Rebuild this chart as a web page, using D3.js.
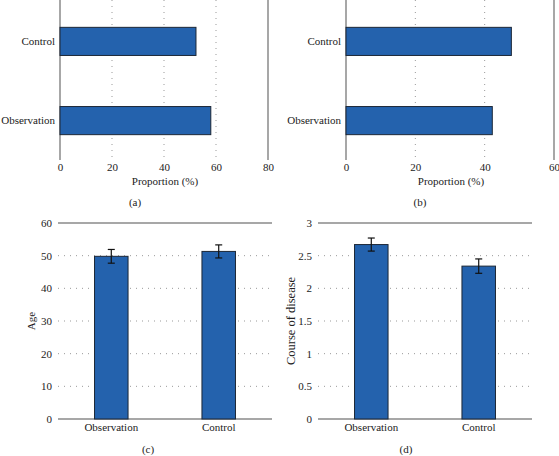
<!DOCTYPE html>
<html><head><meta charset="utf-8">
<script src="https://cdn.jsdelivr.net/npm/d3@7"></script>
<style>
body{margin:0;background:#fff;}
svg text{font-family:'Liberation Serif','Times New Roman',Times,serif !important;fill:#222;}
</style></head>
<body><svg id="c" width="559" height="456"></svg>
<script>
// Data
const groupsAB = ["Control", "Observation"];
const propA = [52.3, 58.0];
const propB = [47.7, 42.2];
const groupsCD = ["Observation", "Control"];
const ageMean = [49.8, 51.3];
const ageErr = [2.1, 2.0];
const courseMean = [2.67, 2.34];
const courseErr = [0.10, 0.11];
const ticksA = [0, 20, 40, 60, 80];
const ticksB = [0, 20, 40, 60];
const ticksC = [0, 10, 20, 30, 40, 50, 60];
const ticksD = [0, 0.5, 1, 1.5, 2, 2.5, 3];

const FS = 11;
const svg = d3.select("#c");
const FILL = "#2462ad", EDGE = "#1c2736", AX = "#8a8a8a", GRID = "#999";

function hpanel(vals, ticks, xmax, x0, x1, labX, titleX, cap, capX) {
  const x = d3.scaleLinear().domain([0, xmax]).range([x0, x1]);
  const y = d3.scaleBand().domain(groupsAB).range([2, 160]).paddingInner(0.645).paddingOuter(0.32);
  const g = svg.append("g");
  g.selectAll(".grid").data(ticks.filter(t => t > 0 && t < xmax)).enter().append("line")
    .attr("x1", d => x(d)).attr("x2", d => x(d)).attr("y1", 0).attr("y2", 160)
    .attr("stroke", GRID).attr("stroke-width", 1).attr("stroke-dasharray", "1,5");
  [0, xmax].forEach(v => g.append("line").attr("x1", x(v)).attr("x2", x(v)).attr("y1", 0).attr("y2", 160)
    .attr("stroke", AX).attr("stroke-width", 1.5));
  g.selectAll(".bar").data(vals).enter().append("rect")
    .attr("x", x(0)).attr("y", (d, i) => y(groupsAB[i]))
    .attr("width", d => x(d) - x(0)).attr("height", y.bandwidth())
    .attr("fill", FILL).attr("stroke", EDGE).attr("stroke-width", 1);
  const ax = d3.axisBottom(x).tickValues(ticks).tickSize(0).tickPadding(0);
  const axg = g.append("g").attr("transform", "translate(0,163)").call(ax);
  axg.select(".domain").remove();
  axg.attr("font-size", FS);
  axg.selectAll("text").attr("dy", "0.71em");
  const ay = d3.axisLeft(y).tickSize(0).tickPadding(0);
  const ayg = g.append("g").attr("transform", `translate(${labX},0)`).call(ay);
  ayg.select(".domain").remove();
  ayg.attr("font-size", FS);
  g.append("text").attr("x", titleX).attr("y", 185).attr("text-anchor", "middle").attr("font-size", FS).text("Proportion (%)");
  g.append("text").attr("x", capX).attr("y", 206).attr("text-anchor", "middle").attr("font-size", FS).text(cap);
}

function vpanel(means, errs, ticks, ymax, x0, x1, tickX, title, titleX, titleFS, cap, capX, fmt) {
  const y = d3.scaleLinear().domain([0, ymax]).range([419, 223]);
  const x = d3.scaleBand().domain(groupsCD).range([x0, x1]).paddingInner(0.688).paddingOuter(0.34);
  const g = svg.append("g");
  g.selectAll(".grid").data(ticks.filter(t => t > 0 && t < ymax)).enter().append("line")
    .attr("x1", x0).attr("x2", x1).attr("y1", d => y(d)).attr("y2", d => y(d))
    .attr("stroke", GRID).attr("stroke-width", 1).attr("stroke-dasharray", "1,5");
  [0, ymax].forEach(v => g.append("line").attr("x1", x0).attr("x2", x1).attr("y1", y(v)).attr("y2", y(v))
    .attr("stroke", AX).attr("stroke-width", 1.5));
  g.selectAll(".bar").data(means).enter().append("rect")
    .attr("x", (d, i) => x(groupsCD[i])).attr("y", d => y(d))
    .attr("width", x.bandwidth()).attr("height", d => y(0) - y(d))
    .attr("fill", FILL).attr("stroke", EDGE).attr("stroke-width", 1);
  means.forEach((m, i) => {
    const cx = x(groupsCD[i]) + x.bandwidth() / 2;
    const eg = g.append("g").attr("stroke", "#111").attr("stroke-width", 1.2);
    eg.append("line").attr("x1", cx).attr("x2", cx).attr("y1", y(m + errs[i])).attr("y2", y(m - errs[i]));
    [m + errs[i], m - errs[i]].forEach(v => eg.append("line").attr("x1", cx - 3.5).attr("x2", cx + 3.5).attr("y1", y(v)).attr("y2", y(v)));
  });
  const ay = d3.axisLeft(y).tickValues(ticks).tickSize(0).tickPadding(0).tickFormat(fmt);
  const ayg = g.append("g").attr("transform", `translate(${tickX},0)`).call(ay);
  ayg.select(".domain").remove();
  ayg.attr("font-size", FS);
  const ax = d3.axisBottom(x).tickSize(0).tickPadding(0);
  const axg = g.append("g").attr("transform", "translate(0,423)").call(ax);
  axg.select(".domain").remove();
  axg.attr("font-size", FS);
  axg.selectAll("text").attr("dy", "0.71em");
  g.append("text").attr("transform", `translate(${titleX},${y(ymax / 2)}) rotate(-90)`)
    .attr("text-anchor", "middle").attr("font-size", titleFS).text(title);
  g.append("text").attr("x", capX).attr("y", 453).attr("text-anchor", "middle").attr("font-size", FS).text(cap);
}

hpanel(propA, ticksA, 80, 60, 268, 55, 165, "(a)", 135);
hpanel(propB, ticksB, 60, 346, 554, 341, 451, "(b)", 420);
vpanel(ageMean, ageErr, ticksC, 60, 58, 272, 52, "Age", 35, 11, "(c)", 148, d3.format("d"));
vpanel(courseMean, courseErr, ticksD, 3, 318, 532, 312, "Course of disease", 295, 12.5, "(d)", 406, d => String(d));
</script></body></html>
